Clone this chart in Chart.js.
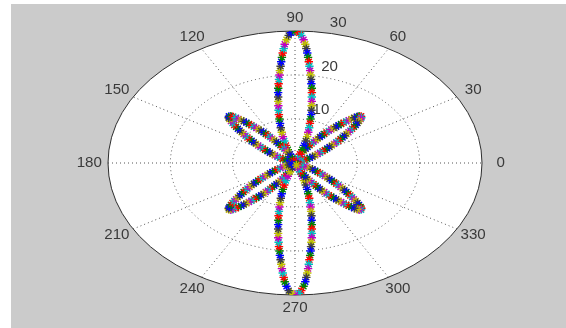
<!DOCTYPE html>
<html>
<head>
<meta charset="utf-8">
<script src="https://cdn.jsdelivr.net/npm/chart.js@4/dist/chart.umd.min.js"></script>
<style>
  html, body { margin: 0; padding: 0; background: #ffffff; }
  canvas { display: block; }
</style>
</head>
<body>
<canvas id="rose" width="566" height="328"></canvas>
<script>
// Polar axis limits and grid
const rMax = 30;
const ringValues = [10, 20, 30];
const spokeAngles = [0, 30, 60, 90, 120, 150];
const angleTickValues = [0, 30, 60, 90, 120, 150, 180, 210, 240, 270, 300, 330];
const angleTickLabels = ['0', '30', '60', '90', '120', '150', '180', '210', '240', '270', '300', '330'];

// Petal directions (degrees)
const longPetalAxes = [90, 270];
const shortPetalAxes = [45, 135, 225, 315];

// One side of a long petal, from the centre out to the tip:
// angular offset from the petal axis (deg) and radius
const longPetalOffset = [21.8, 21.8, 21.8, 21.0, 19.9, 19.0, 18.0, 16.9, 15.9, 14.9, 14.0, 13.2, 12.4, 11.6, 10.9, 10.2,
                         9.6, 9.0, 8.3, 7.7, 7.1, 6.6, 6.0, 5.5, 5.0, 4.5, 4.0, 3.5, 2.8, 2.0, 1.2, 0];
const longPetalRho    = [0.54, 1.08, 2.15, 3.21, 4.25, 5.29, 6.31, 7.32, 8.32, 9.31, 10.31, 11.30, 12.29, 13.27, 14.26, 15.24,
                         16.23, 17.21, 18.19, 19.17, 20.16, 21.14, 22.12, 23.11, 24.09, 25.08, 26.06, 27.05, 28.03, 29.02, 29.61, 30];

// One side of a short petal, from the centre out to the tip
const shortPetalOffset = [20.8, 20.8, 20.5, 19.8, 19.0, 17.9, 16.8, 15.8, 14.8, 13.9, 13.1, 12.3, 11.6, 10.9, 10.2, 9.6,
                          9.0, 8.3, 7.7, 7.0, 6.4, 5.8, 5.2, 4.6, 4.0, 3.5, 2.9, 2.25, 1.5, 0.97, 0];
const shortPetalRho    = [0.53, 1.07, 1.60, 2.13, 2.64, 3.15, 3.66, 4.16, 4.65, 5.15, 5.65, 6.14, 6.63, 7.13, 7.62, 8.11,
                          8.60, 9.10, 9.59, 10.08, 10.56, 11.06, 11.55, 12.04, 12.53, 13.02, 13.52, 14.01, 14.51, 14.80, 15.0];

// Marker colour cycle
const markerColors = ['#0000ff', '#008000', '#ff0000', '#00bfbf', '#bf00bf', '#bfbf00', '#404040'];

// Trace each petal: out along one side, back along the other
function petalPoints(axis, offsets, rhos) {
  const pts = [];
  for (let i = 0; i < rhos.length; i++) pts.push([axis + offsets[i], rhos[i]]);
  for (let i = rhos.length - 2; i >= 0; i--) pts.push([axis - offsets[i], rhos[i]]);
  return pts;
}

const petalOrder = [45, 90, 135, 225, 270, 315];
const polarPoints = [];
petalOrder.forEach(a => {
  const isLong = longPetalAxes.includes(a);
  polarPoints.push(...petalPoints(a, isLong ? longPetalOffset : shortPetalOffset, isLong ? longPetalRho : shortPetalRho));
});

const toXY = ([deg, r]) => ({ x: r * Math.cos(deg * Math.PI / 180), y: r * Math.sin(deg * Math.PI / 180) });
const points = polarPoints.map(toXY);
const pointColors = points.map((_, i) => markerColors[i % markerColors.length]);

const textFont = "14px 'Liberation Sans', Arial, sans-serif";
const textColor = '#3a3a3a';

function wideText(ctx, str, px, py) {
  ctx.save();
  ctx.translate(px, py);
  ctx.scale(1.08, 1);
  ctx.fillText(str, 0, 0);
  ctx.restore();
}

const polarFrame = {
  id: 'polarFrame',
  beforeDraw(chart) {
    const { ctx, scales: { x, y } } = chart;
    const W = chart.width, H = chart.height;
    ctx.save();
    ctx.fillStyle = '#ffffff';
    ctx.fillRect(0, 0, W, H);
    ctx.fillStyle = '#cbcbcb';
    ctx.fillRect(11, 4, W - 11, H - 4);

    const cx = x.getPixelForValue(0), cy = y.getPixelForValue(0);
    const rx = v => x.getPixelForValue(v) - cx;
    const ry = v => cy - y.getPixelForValue(v);

    // plot disc
    ctx.fillStyle = '#ffffff';
    ctx.beginPath();
    ctx.ellipse(cx, cy, rx(rMax), ry(rMax), 0, 0, Math.PI * 2);
    ctx.fill();

    // dotted rings and spokes
    ctx.strokeStyle = '#555555';
    ctx.lineWidth = 1;
    ctx.setLineDash([1, 3]);
    ringValues.filter(v => v < rMax).forEach(v => {
      ctx.beginPath();
      ctx.ellipse(cx, cy, rx(v), ry(v), 0, 0, Math.PI * 2);
      ctx.stroke();
    });
    spokeAngles.forEach(d => {
      const t = d * Math.PI / 180;
      ctx.beginPath();
      ctx.moveTo(x.getPixelForValue(-rMax * Math.cos(t)), y.getPixelForValue(-rMax * Math.sin(t)));
      ctx.lineTo(x.getPixelForValue(rMax * Math.cos(t)), y.getPixelForValue(rMax * Math.sin(t)));
      ctx.stroke();
    });
    ctx.setLineDash([]);

    // outer boundary
    ctx.strokeStyle = '#2e2e2e';
    ctx.lineWidth = 1;
    ctx.beginPath();
    ctx.ellipse(cx, cy, rx(rMax), ry(rMax), 0, 0, Math.PI * 2);
    ctx.stroke();

    // angle labels
    ctx.font = textFont;
    ctx.fillStyle = textColor;
    ctx.textAlign = 'center';
    ctx.textBaseline = 'middle';
    const rt = 1.1 * rMax;
    angleTickValues.forEach((d, i) => {
      const t = d * Math.PI / 180;
      wideText(ctx, angleTickLabels[i], x.getPixelForValue(rt * Math.cos(t)), y.getPixelForValue(rt * Math.sin(t)));
    });

    // radius labels along the 82 degree ray
    ctx.textAlign = 'left';
    ctx.textBaseline = 'bottom';
    const t82 = 82 * Math.PI / 180;
    ringValues.forEach(v => {
      const rr = v + 0.5;
      wideText(ctx, '  ' + v, x.getPixelForValue(rr * Math.cos(t82)), y.getPixelForValue(rr * Math.sin(t82)));
    });
    ctx.restore();
  }
};

new Chart(document.getElementById('rose'), {
  type: 'scatter',
  data: {
    datasets: [{
      data: points,
      showLine: false,
      pointStyle: 'star',
      pointRadius: 4.2,
      pointBorderWidth: 1.4,
      pointBorderColor: pointColors,
      pointBackgroundColor: pointColors
    }]
  },
  options: {
    responsive: false,
    animation: false,
    events: [],
    layout: { padding: { left: 108, right: 84, top: 31, bottom: 33 } },
    scales: {
      x: { type: 'linear', min: -rMax, max: rMax, display: false },
      y: { type: 'linear', min: -rMax, max: rMax, display: false }
    },
    plugins: { legend: { display: false }, tooltip: { enabled: false } }
  },
  plugins: [polarFrame]
});
</script>
</body>
</html>
